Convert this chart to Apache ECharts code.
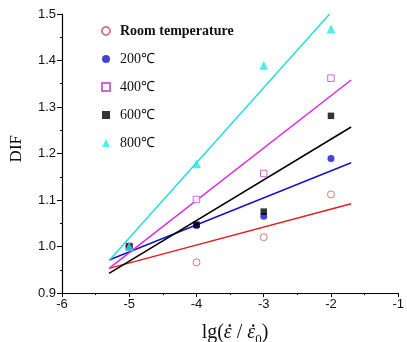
<!DOCTYPE html>
<html><head><meta charset="utf-8">
<script src="https://cdn.jsdelivr.net/npm/echarts@6/dist/echarts.min.js"></script>
<style>html,body{margin:0;padding:0;background:#fff}#c{width:407px;height:342px}</style>
</head><body><div id="c"></div>
<script>
var xCats = [-5, -4, -3, -2];
var roomT = [1.0, 0.966, 1.020, 1.112];
var t200 = [1.0, 1.045, 1.065, 1.189];
var t400 = [1.0, 1.101, 1.157, 1.362];
var t600 = [1.0, 1.047, 1.075, 1.281];
var t800 = [1.0, 1.178, 1.390, 1.468];
var names = ['Room temperature', '200℃', '400℃', '600℃', '800℃'];
// fitted line endpoints [x, y]
var fitRoom = [[-5.3, 0.953], [-1.7, 1.092]];
var fit200 = [[-5.3, 0.971], [-1.7, 1.180]];
var fit400 = [[-5.3, 0.953], [-1.7, 1.358]];
var fit600 = [[-5.3, 0.942], [-1.7, 1.257]];
var fit800 = [[-5.3, 0.970], [-2.02, 1.500]];
var xTicks = [-6, -5, -4, -3, -2, -1];
var yTicks = [0.9, 1.0, 1.1, 1.2, 1.3, 1.4, 1.5];

var markColors = ['#c85a64', '#1414d2', '#b446c8', '#000000', '#28e6e6'];
var lineColors = ['#e02020', '#1414c8', '#e028e0', '#000000', '#28dcdc'];
var symbols = ['circle', 'circle', 'rect', 'rect', 'triangle'];
var hollow = [true, false, true, false, false];
var sets = [roomT, t200, t400, t600, t800];
var fits = [fitRoom, fit200, fit400, fit600, fit800];

function pairs(v){ return xCats.map(function(x,i){ return [x, v[i]]; }); }

var series = [];
for (var i = 0; i < 5; i++) {
  series.push({
    type: 'line', data: fits[i], symbol: 'none', silent: true,
    lineStyle: { color: lineColors[i], width: 1.5 }, z: 2
  });
}
for (var i = 0; i < 5; i++) {
  series.push({
    name: names[i], type: 'scatter', data: pairs(sets[i]), symbol: symbols[i],
    symbolSize: symbols[i]==='triangle' ? 9 : (symbols[i]==='rect' ? 6.5 : 7),
    itemStyle: hollow[i] ? { color: '#fff', borderColor: markColors[i], borderWidth: 1 } : { color: markColors[i] },
    z: 3
  });
}

// x-axis title laid out piece by piece
var cv = document.createElement('canvas').getContext('2d');
function w(txt, font){ cv.font = font; return cv.measureText(txt).width; }
var F = 'Liberation Serif';
var pieces = [
  { t: 'lg(', style: 'normal', size: 20, dy: 0 },
  { t: 'ε', style: 'italic', size: 20, dy: 0, dot: true },
  { t: ' / ', style: 'normal', size: 20, dy: 0 },
  { t: 'ε', style: 'italic', size: 20, dy: 0, dot: true },
  { t: '0', style: 'normal', size: 13, dy: 7 },
  { t: ')', style: 'normal', size: 20, dy: 0 }
];
var total = 0;
pieces.forEach(function(p){ p.w = w(p.t, (p.style === 'italic' ? 'italic ' : '') + p.size + 'px "' + F + '"'); total += p.w; });
var cx = 235, midY = 333;
var xx = cx - total / 2;
var titleEls = [];
pieces.forEach(function(p){
  titleEls.push({ type: 'text', x: xx, y: midY + p.dy, z: 10,
    style: { text: p.t, fontFamily: F, fontSize: p.size, fontStyle: p.style, fill: '#111',
      verticalAlign: 'middle', align: 'left' } });
  if (p.dot) {
    titleEls.push({ type: 'circle', z: 11, shape: { cx: xx + p.w / 2 + 2, cy: midY - 7.5, r: 1.2 },
      style: { fill: '#111' } });
  }
  xx += p.w;
});

var chart = echarts.init(document.getElementById('c'));
chart.setOption({
  animation: false,
  grid: { left: 62, right: 2, top: 14, bottom: 49 },
  legend: {
    data: names, orient: 'vertical', left: 96, top: 19, itemGap: 14,
    itemWidth: 8, itemHeight: 8,
    textStyle: { fontFamily: 'Liberation Serif', fontSize: 14, color: '#111', padding: [0, 0, 0, 5],
      rich: { b: { fontFamily: 'Liberation Serif', fontSize: 14, fontWeight: 'bold', color: '#111' } } },
    formatter: function(n){ return n === 'Room temperature' ? '{b|' + n + '}' : n; },
    selectedMode: false
  },
  xAxis: {
    type: 'value', min: xTicks[0], max: xTicks[xTicks.length-1], interval: 1,
    axisLine: { onZero: false, lineStyle: { color: '#000', width: 1.2 } },
    axisTick: { length: 4, lineStyle: { color: '#000' } },
    minorTick: { show: true, splitNumber: 2, length: 2, lineStyle: { color: '#000' } },
    splitLine: { show: false },
    axisLabel: { fontFamily: 'Liberation Sans', fontSize: 13, color: '#111', margin: 5,
      formatter: function(v){ return String(v); } }
  },
  yAxis: {
    type: 'value', min: yTicks[0], max: yTicks[yTicks.length-1], interval: 0.1,
    axisLine: { show: true, lineStyle: { color: '#000', width: 1.2 } },
    axisTick: { show: true, length: 5, lineStyle: { color: '#000' } },
    minorTick: { show: true, splitNumber: 2, length: 2, lineStyle: { color: '#000' } },
    splitLine: { show: false },
    axisLabel: { fontFamily: 'Liberation Sans', fontSize: 13, color: '#111', margin: 6,
      formatter: function(v){ return v.toFixed(1); } }
  },
  graphic: [
    { type: 'text', left: 8, top: 135, rotation: Math.PI/2, originX: 0, originY: 0,
      style: { text: 'DIF', fontFamily: 'Liberation Serif', fontSize: 17, fill: '#111' } },
    { type: 'group', children: titleEls }
  ],
  series: series
});
</script></body></html>
